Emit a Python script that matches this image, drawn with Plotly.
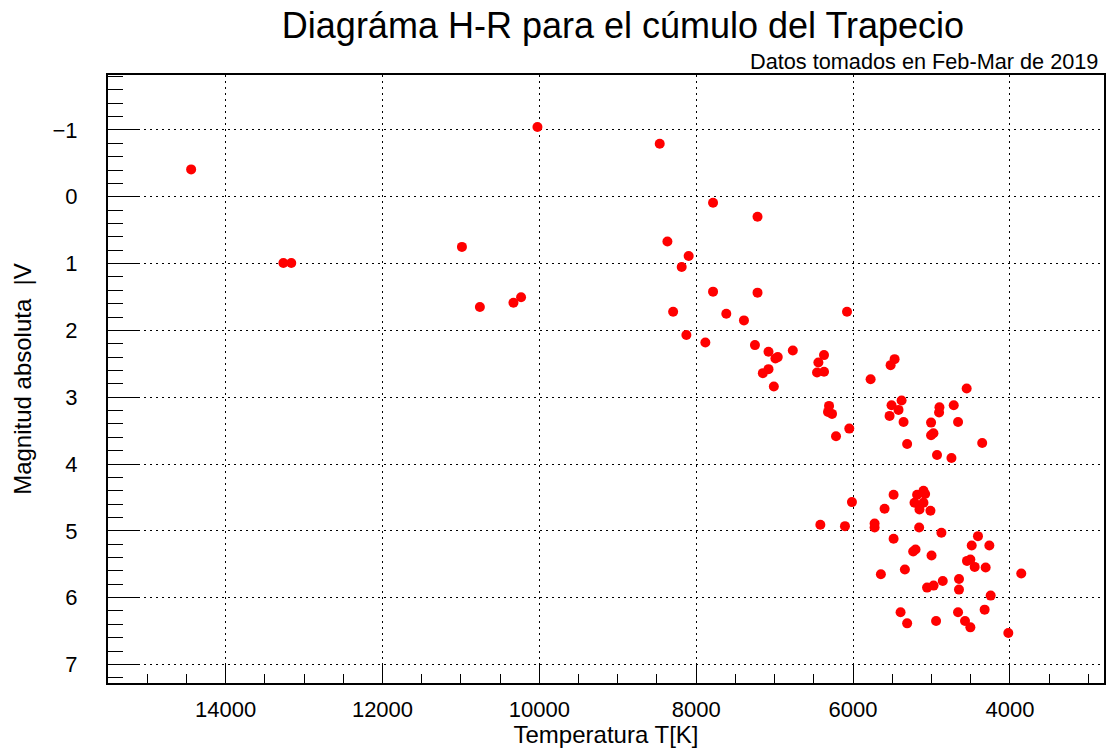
import plotly.graph_objects as go

# Temperatura efectiva (K) y magnitud absoluta V de cada estrella
temperatura = [14440, 13264, 13163, 10987, 10758, 10330, 10233, 10024, 8465,
               7785, 7218, 8367, 8096, 8185, 7785, 7218, 8294, 7616, 7391,
               6077, 8125, 7883, 7251, 7078, 6990, 6960, 6768, 6370, 6442,
               6459, 6370, 7078, 7150, 7010, 6306, 5776, 5470, 5521, 4551,
               6319, 6268, 6048, 6217, 5381, 5509, 5420, 5534, 5356, 5310,
               4898, 4903, 4716, 5005, 4661, 5005, 4975, 4929, 4745, 4353,
               6014, 6417, 6103, 5725, 5725, 5483, 5598, 5183, 5102, 5081,
               5216, 5102, 5153, 5013, 5157, 5483, 4873, 5233, 5203, 4999,
               5645, 5339, 4407, 4487, 4262, 4547, 4504, 4449, 4309, 3855,
               4649, 4649, 4856, 4973, 5056, 4245, 5394, 5310, 4941, 4661,
               4322, 4572, 4504, 4020]
magnitud = [-0.41, 0.99, 0.99, 0.75, 1.65, 1.585, 1.505, -1.045, -0.795,
            0.088, 0.30, 0.67, 0.886, 1.05, 1.42, 1.435, 1.72, 1.75, 1.85,
            1.72, 2.07, 2.18, 2.22, 2.32, 2.42, 2.40, 2.30, 2.37, 2.48,
            2.63, 2.62, 2.58, 2.64, 2.84, 3.13, 2.73, 2.43, 2.52, 2.87,
            3.22, 3.25, 3.47, 3.585, 3.05, 3.12, 3.19, 3.28, 3.37, 3.70,
            3.15, 3.23, 3.12, 3.38, 3.37, 3.57, 3.54, 3.865, 3.91, 3.685,
            4.57, 4.91, 4.93, 4.89, 4.95, 4.46, 4.67, 4.46, 4.40, 4.45,
            4.58, 4.58, 4.68, 4.70, 4.95, 5.12, 5.03, 5.31, 5.28, 5.37,
            5.65, 5.58, 5.08, 5.22, 5.22, 5.45, 5.43, 5.54, 5.55, 5.64,
            5.72, 5.88, 5.75, 5.82, 5.85, 5.97, 6.22, 6.385, 6.35, 6.22,
            6.18, 6.35, 6.445, 6.53]

x_ticks = [4000, 6000, 8000, 10000, 12000, 14000]
x_labels = ["4000", "6000", "8000", "10000", "12000", "14000"]
y_ticks = [-1, 0, 1, 2, 3, 4, 5, 6, 7]
y_labels = ["\u22121", "0", "1", "2", "3", "4", "5", "6", "7"]

FONT = "Liberation Sans, Arial, sans-serif"
DOTS = "2px,4px"
W, H = 1107, 748

fig = go.Figure(go.Scatter(
    x=temperatura,
    y=magnitud,
    mode="markers",
    marker=dict(color="rgb(255,0,0)", size=10, line=dict(width=0)),
    showlegend=False,
))

fig.update_layout(
    width=W,
    height=H,
    margin=dict(l=108, r=1, t=75, b=65),
    paper_bgcolor="white",
    plot_bgcolor="white",
    font=dict(family=FONT, color="black", size=22),
    title=dict(text="Diagráma H-R para el cúmulo del Trapecio",
               font=dict(size=36, family=FONT),
               x=623 / W, xanchor="center", xref="container",
               y=1 - 25 / H, yanchor="middle", yref="container"),
    annotations=[dict(text="Datos tomados en Feb-Mar de 2019",
                      x=1, xref="paper", xanchor="right", xshift=-4,
                      y=1, yref="paper", yanchor="bottom", yshift=-1,
                      showarrow=False, font=dict(size=21.7, family=FONT))],
)

fig.update_xaxes(
    range=[15500, 2800],
    title=dict(text="Temperatura T[K]", font=dict(size=24), standoff=4),
    tickvals=x_ticks, ticktext=x_labels,
    ticks="inside", ticklen=18, tickwidth=1, tickcolor="black",
    ticklabelstandoff=6,
    minor=dict(dtick=500, tick0=0, ticks="inside", ticklen=9, tickcolor="black", showgrid=False),
    showgrid=True, gridcolor="black", gridwidth=1, griddash=DOTS,
    showline=True, linecolor="black", linewidth=2, mirror=True,
    zeroline=False,
)

fig.update_yaxes(
    range=[7.278, -1.823],
    title=dict(text="Magnitud absoluta  |V", font=dict(size=24), standoff=14),
    tickvals=y_ticks, ticktext=y_labels,
    ticks="inside", ticklen=30, tickwidth=1, tickcolor="black",
    ticklabelstandoff=24,
    minor=dict(dtick=0.2, tick0=0, ticks="inside", ticklen=15, tickcolor="black", showgrid=False),
    showgrid=True, gridcolor="black", gridwidth=1, griddash=DOTS,
    showline=True, linecolor="black", linewidth=2, mirror=True,
    zeroline=False,
)

# drop the default page margin so the figure fills the window exactly
fig.write_html("out.html",
               config={"displayModeBar": False},
               post_script="document.body.style.margin='0';document.body.style.overflow='hidden';")
